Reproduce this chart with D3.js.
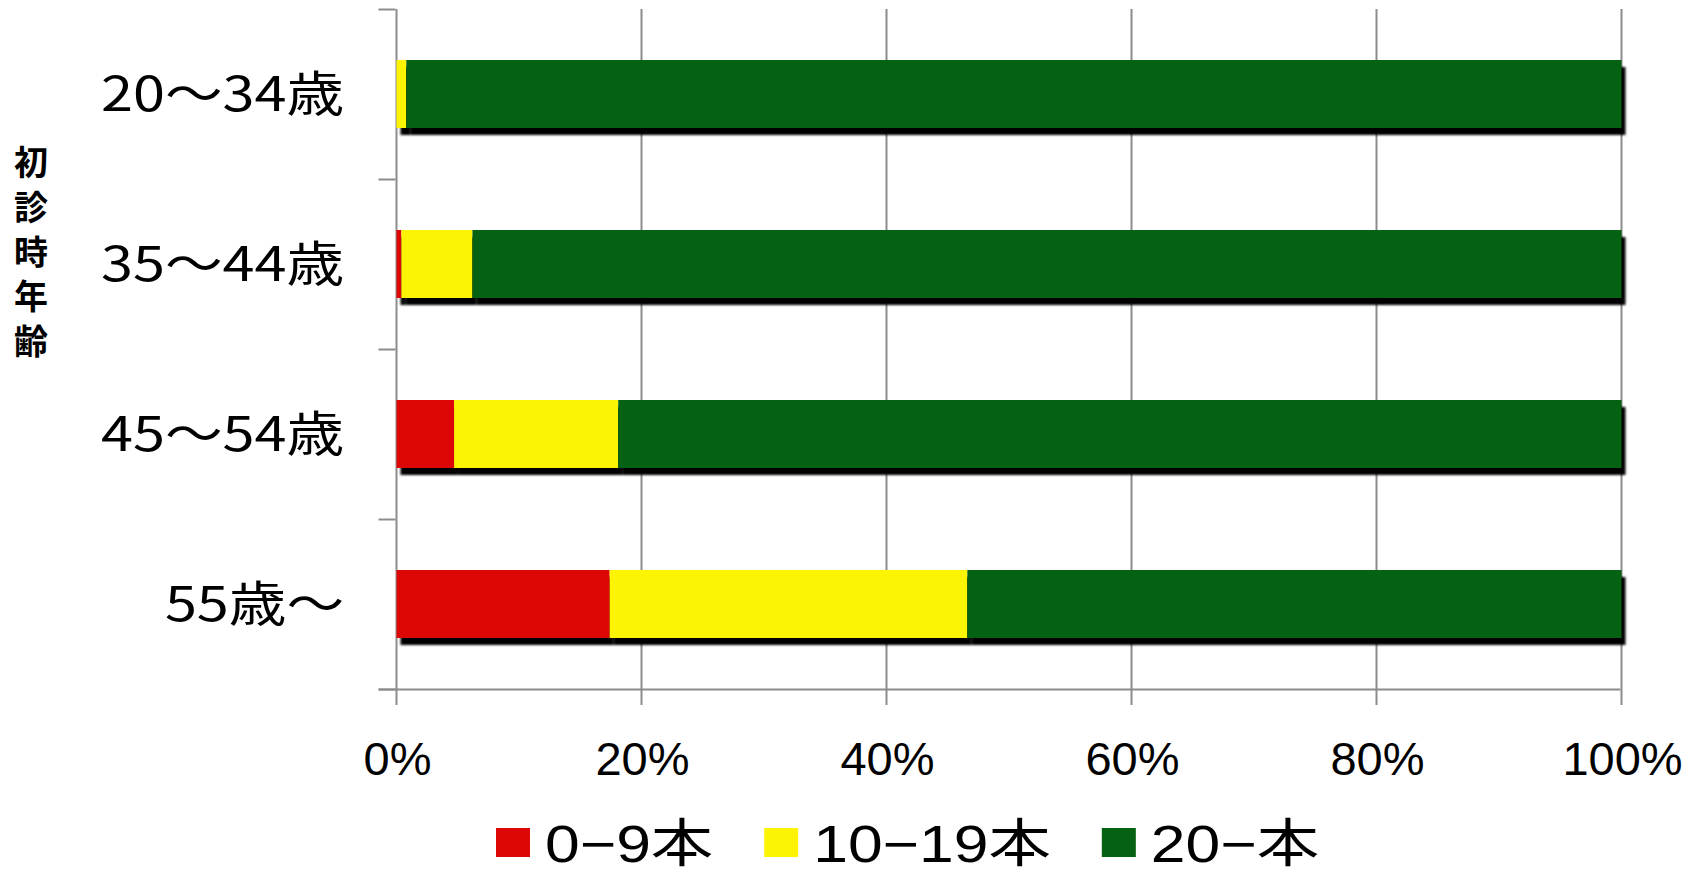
<!DOCTYPE html>
<html>
<head>
<meta charset="utf-8">
<script src="https://cdn.jsdelivr.net/npm/d3@7"></script>
<style>
  html, body { margin: 0; padding: 0; background: #fff; }
  svg { display: block; }
</style>
</head>
<body>
<svg id="chart" width="1705" height="873"></svg>
<script>
// ---- data ----
const categories = ["20～34歳", "35～44歳", "45～54歳", "55歳～"];
const seriesNames = ["0−9本", "10−19本", "20−本"];
const teeth0to9 = [0, 0.4, 4.7, 17.4];
const teeth10to19 = [0.8, 5.8, 13.4, 29.2];
const teeth20plus = [99.2, 93.8, 81.9, 53.4];
const xTicks = [0, 20, 40, 60, 80, 100];
const xTickLabels = ["0%", "20%", "40%", "60%", "80%", "100%"];
const yTitle = "初診時年齢";
const colors = ["#dd0806", "#fcf305", "#046212"];

(function () {
// ---- layout ----
const svg = d3.select("#chart");
const pLeft = 395.5, pRight = 1620.5, pTop = 9, pBottom = 689;
const gridColor = "#8c8c8c";
const latinFont = "'Liberation Sans', 'Noto Sans CJK JP', sans-serif";
const cjkFont = "'Noto Sans CJK JP', sans-serif";
const stretch = 1.2;

const x = d3.scaleLinear().domain([0, 100]).range([pLeft, pRight]);
const y = d3.scaleBand().domain(categories).range([pTop, pBottom]).paddingInner(0.6).paddingOuter(0.3);

const rows = categories.map((c, i) => ({ cat: c, vals: [teeth0to9[i], teeth10to19[i], teeth20plus[i]] }));
const stack = d3.stack().keys([0, 1, 2]).value((d, k) => d.vals[k]);
const stacked = stack(rows);

// gridlines (vertical) with ticks below axis
svg.append("g").selectAll("line").data(xTicks).join("line")
  .attr("x1", d => Math.round(x(d)) + 0.5).attr("x2", d => Math.round(x(d)) + 0.5)
  .attr("y1", pTop).attr("y2", pBottom + 16)
  .attr("stroke", gridColor).attr("stroke-width", 2);

// category tick marks on the y axis
svg.append("g").selectAll("line").data(d3.range(categories.length + 1)).join("line")
  .attr("x1", pLeft - 17).attr("x2", pLeft)
  .attr("y1", i => pTop + i * y.step() + 0.5).attr("y2", i => pTop + i * y.step() + 0.5)
  .attr("stroke", gridColor).attr("stroke-width", 2);

// x axis line
svg.append("line").attr("x1", pLeft - 17).attr("x2", pRight).attr("y1", pBottom + 0.5).attr("y2", pBottom + 0.5)
  .attr("stroke", gridColor).attr("stroke-width", 2);

// shadows
const defs = svg.append("defs");
const f = defs.append("filter").attr("id", "blur").attr("x", "-5%").attr("y", "-20%").attr("width", "110%").attr("height", "140%");
f.append("feGaussianBlur").attr("stdDeviation", 0.8);

const shadowG = svg.append("g").attr("filter", "url(#blur)");
stacked.forEach(layer => {
  shadowG.selectAll(null).data(layer.filter(d => d[1] - d[0] > 0)).join("rect")
    .attr("x", d => x(d[0]) + 5)
    .attr("y", d => y(d.data.cat) + 7)
    .attr("width", d => x(d[1]) - x(d[0]))
    .attr("height", y.bandwidth())
    .attr("fill", "#000");
});

// bars
stacked.forEach((layer, k) => {
  svg.append("g").selectAll("rect").data(layer.filter(d => d[1] - d[0] > 0)).join("rect")
    .attr("x", d => x(d[0]) + 1)
    .attr("y", d => y(d.data.cat))
    .attr("width", d => x(d[1]) - x(d[0]))
    .attr("height", y.bandwidth())
    .attr("fill", colors[k]);
});

// y category labels (horizontally stretched gothic)
svg.append("g").selectAll("text").data(categories).join("text")
  .attr("transform", d => `translate(344,${y(d) + y.bandwidth() / 2}) scale(${stretch},1)`)
  .attr("dy", "0.36em")
  .attr("text-anchor", "end")
  .attr("font-family", cjkFont).attr("font-size", 48)
  .attr("fill", "#000")
  .text(d => d);

// y title (vertical)
svg.append("g").selectAll("text").data(Array.from(yTitle)).join("text")
  .attr("x", 31).attr("y", (d, i) => 163 + i * 44.7)
  .attr("dy", "0.36em")
  .attr("text-anchor", "middle")
  .attr("font-family", cjkFont).attr("font-weight", 700).attr("font-size", 34)
  .attr("fill", "#000")
  .text(d => d);

// x tick labels
svg.append("g").selectAll("text").data(xTicks).join("text")
  .attr("x", d => x(d) + 2).attr("y", 775)
  .attr("text-anchor", "middle")
  .attr("font-family", latinFont).attr("font-size", 47)
  .attr("fill", "#000")
  .text((d, i) => xTickLabels[i]);

// legend
const legend = svg.append("g");
let lx = 496;
seriesNames.forEach((name, k) => {
  legend.append("rect").attr("x", lx).attr("y", 828).attr("width", 34).attr("height", 29).attr("fill", colors[k]);
  const tx = lx + 49;
  const t = legend.append("text")
    .attr("transform", `translate(${tx},862) scale(${stretch},1)`)
    .attr("font-family", latinFont).attr("font-size", 52).attr("fill", "#000").text(name);
  const w = t.node().getComputedTextLength() * stretch;
  lx = tx + w + 51;
});
})();
</script>
</body>
</html>
